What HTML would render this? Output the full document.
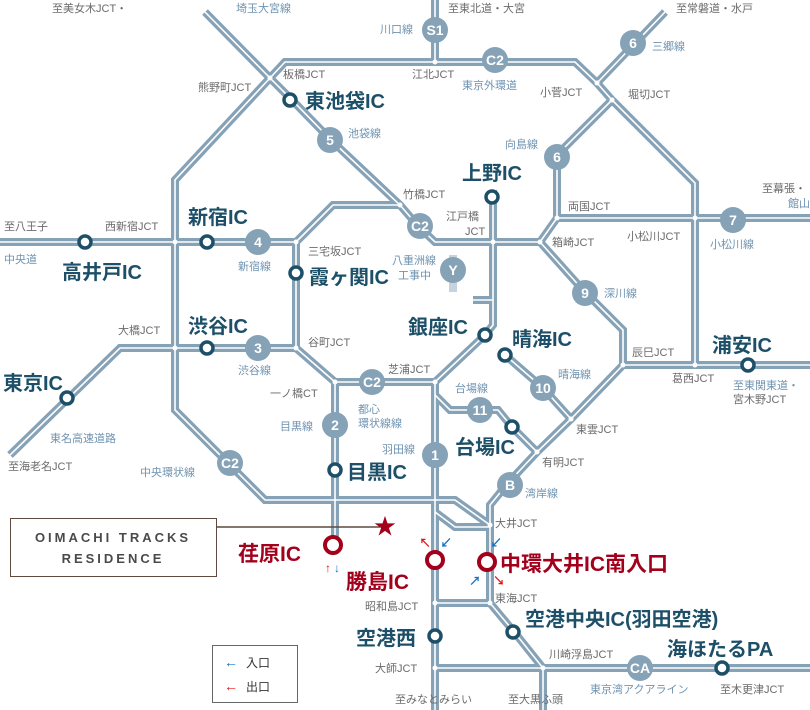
<!DOCTYPE html>
<html><head><meta charset="utf-8"><style>
html,body{margin:0;padding:0;background:#fff}
svg{display:block}
text{font-family:"Liberation Sans","Noto Sans CJK JP",sans-serif}
.j{fill:#6b6b6b;font-size:11px}
.l{fill:#6f93b0;font-size:11px}
.ic{fill:#1d5068;font-size:20px;font-weight:bold}
.rd{fill:#a3001c;font-size:21px;font-weight:bold}
.bt{fill:#fff;font-size:14px;font-weight:bold;text-anchor:middle}
</style></head><body>
<svg width="810" height="710" viewBox="0 0 810 710" xmlns="http://www.w3.org/2000/svg">
<defs>
<g id="roads">
<path d="M205,12 L270,78 L292,100 L331,140 L400,205 L418,226 L435,242 L540,242"/>
<path d="M270,78 L285,62 L575,62 L597,83 L612,100 L695,183 L695,365"/>
<path d="M270,78 L175,180 L175,410 L265,500 L455,500 L490,525"/>
<path d="M435,512 L455,527 L490,527"/>
<path d="M435,0 L435,62"/>
<path d="M665,12 L597,83"/>
<path d="M612,100 L557,155 L557,218 L540,242"/>
<path d="M557,218 L810,218"/>
<path d="M540,242 L583,290 L623,330 L623,365 L810,365"/>
<path d="M623,365 L571,419 L537,452 L508,483 L490,505 L490,603 L515,633 L543,668 L543,710"/>
<path d="M505,355 L543,388 L571,419"/>
<path d="M435,395 L450,410 L498,410 L512,427 L537,452"/>
<path d="M493,190 L493,325 L485,335 L435,382"/>
<path d="M473,300 L493,300"/>
<path d="M400,205 L333,205 L296,242 L296,348 L335,382 L435,382"/>
<path d="M0,242 L296,242"/>
<path d="M10,455 L120,348 L296,348"/>
<path d="M335,382 L335,545"/>
<path d="M435,382 L435,710"/>
<path d="M435,603 L490,603"/>
<path d="M435,668 L810,668"/>
</g>
</defs>
<path d="M453,255 L453,292" stroke="#c6d3dc" stroke-width="8" fill="none"/>
<use href="#roads" fill="none" stroke="#86a2b7" stroke-width="8"/>
<use href="#roads" fill="none" stroke="#fff" stroke-width="1.6"/>
<g fill="#fff">
<circle cx="270" cy="78" r="2.5"/><circle cx="435" cy="62" r="2.5"/><circle cx="597" cy="83" r="2.5"/><circle cx="612" cy="100" r="2.5"/>
<circle cx="175" cy="242" r="2.5"/><circle cx="296" cy="242" r="2.5"/><circle cx="400" cy="205" r="2.5"/><circle cx="493" cy="242" r="2.5"/><circle cx="540" cy="242" r="2.5"/><circle cx="557" cy="218" r="2.5"/><circle cx="695" cy="218" r="2.5"/>
<circle cx="175" cy="348" r="2.5"/><circle cx="296" cy="348" r="2.5"/><circle cx="335" cy="382" r="2.5"/><circle cx="435" cy="382" r="2.5"/>
<circle cx="623" cy="365" r="2.5"/><circle cx="695" cy="365" r="2.5"/><circle cx="571" cy="419" r="2.5"/><circle cx="537" cy="452" r="2.5"/>
<circle cx="490" cy="525" r="2.5"/><circle cx="490" cy="603" r="2.5"/><circle cx="435" cy="603" r="2.5"/><circle cx="435" cy="668" r="2.5"/><circle cx="543" cy="668" r="2.5"/>
</g>
<g fill="#86a2b7">
<circle cx="435" cy="30" r="13"/><circle cx="495" cy="60" r="13"/><circle cx="633" cy="43" r="13"/><circle cx="330" cy="140" r="13"/><circle cx="557" cy="157" r="13"/><circle cx="420" cy="226" r="13"/><circle cx="258" cy="242" r="13"/><circle cx="733" cy="220" r="13"/><circle cx="453" cy="270" r="13"/><circle cx="585" cy="293" r="13"/><circle cx="258" cy="348" r="13"/><circle cx="372" cy="382" r="13"/><circle cx="543" cy="388" r="13"/><circle cx="480" cy="410" r="13"/><circle cx="335" cy="425" r="13"/><circle cx="435" cy="455" r="13"/><circle cx="230" cy="463" r="13"/><circle cx="510" cy="485" r="13"/><circle cx="640" cy="668" r="13"/>
</g>
<g>
<text x="435" y="35" class="bt">S1</text><text x="495" y="65" class="bt">C2</text><text x="633" y="48" class="bt">6</text><text x="330" y="145" class="bt">5</text><text x="557" y="162" class="bt">6</text><text x="420" y="231" class="bt">C2</text><text x="258" y="247" class="bt">4</text><text x="733" y="225" class="bt">7</text><text x="453" y="275" class="bt">Y</text><text x="585" y="298" class="bt">9</text><text x="258" y="353" class="bt">3</text><text x="372" y="387" class="bt">C2</text><text x="543" y="393" class="bt">10</text><text x="480" y="415" class="bt">11</text><text x="335" y="430" class="bt">2</text><text x="435" y="460" class="bt">1</text><text x="230" y="468" class="bt">C2</text><text x="510" y="490" class="bt">B</text><text x="640" y="673" class="bt">CA</text>
</g>
<g fill="#fff" stroke="#1d5068" stroke-width="3.5">
<circle cx="290" cy="100" r="6"/><circle cx="492" cy="197" r="6"/><circle cx="85" cy="242" r="6"/><circle cx="207" cy="242" r="6"/><circle cx="296" cy="273" r="6"/><circle cx="207" cy="348" r="6"/><circle cx="67" cy="398" r="6"/><circle cx="485" cy="335" r="6"/><circle cx="505" cy="355" r="6"/><circle cx="748" cy="365" r="6"/><circle cx="512" cy="427" r="6"/><circle cx="335" cy="470" r="6"/><circle cx="513" cy="632" r="6"/><circle cx="435" cy="636" r="6"/><circle cx="722" cy="668" r="6"/>
</g>
<g fill="#fff" stroke="#a3001c" stroke-width="4">
<circle cx="333" cy="545" r="8"/><circle cx="435" cy="560" r="8"/><circle cx="487" cy="562" r="8"/>
</g>
<text class="ic" x="305" y="108">東池袋IC</text>
<text class="ic" x="462" y="180">上野IC</text>
<text class="ic" x="188" y="224">新宿IC</text>
<text class="ic" x="62" y="279">高井戸IC</text>
<text class="ic" x="309" y="284">霞ヶ関IC</text>
<text class="ic" x="188" y="333">渋谷IC</text>
<text class="ic" x="3" y="390">東京IC</text>
<text class="ic" x="408" y="334">銀座IC</text>
<text class="ic" x="512" y="346">晴海IC</text>
<text class="ic" x="712" y="352">浦安IC</text>
<text class="ic" x="455" y="454">台場IC</text>
<text class="ic" x="347" y="479">目黒IC</text>
<text class="ic" x="525" y="626">空港中央IC(羽田空港)</text>
<text class="ic" x="356" y="645">空港西</text>
<text class="ic" x="667" y="656">海ほたるPA</text>
<text class="rd" x="238" y="561">荏原IC</text>
<text class="rd" x="346" y="589">勝島IC</text>
<text class="rd" x="500" y="571">中環大井IC南入口</text>
<g class="j">
<text x="52" y="12">至美女木JCT・</text><text x="448" y="12">至東北道・大宮</text><text x="676" y="12">至常磐道・水戸</text>
<text x="198" y="91">熊野町JCT</text><text x="283" y="78">板橋JCT</text><text x="412" y="78">江北JCT</text><text x="540" y="96">小菅JCT</text><text x="628" y="98">堀切JCT</text>
<text x="403" y="198">竹橋JCT</text><text x="446" y="220">江戸橋</text><text x="465" y="235">JCT</text><text x="568" y="210">両国JCT</text><text x="552" y="246">箱崎JCT</text><text x="627" y="240">小松川JCT</text><text x="762" y="192">至幕張・</text>
<text x="4" y="230">至八王子</text><text x="105" y="230">西新宿JCT</text><text x="308" y="255">三宅坂JCT</text>
<text x="118" y="334">大橋JCT</text><text x="308" y="346">谷町JCT</text><text x="632" y="356">辰巳JCT</text><text x="672" y="382">葛西JCT</text><text x="733" y="403">宮木野JCT</text>
<text x="270" y="397">一ノ橋CT</text><text x="388" y="373">芝浦JCT</text><text x="576" y="433">東雲JCT</text><text x="542" y="466">有明JCT</text><text x="8" y="470">至海老名JCT</text>
<text x="495" y="527">大井JCT</text><text x="495" y="602">東海JCT</text><text x="365" y="610">昭和島JCT</text><text x="549" y="658">川崎浮島JCT</text><text x="375" y="672">大師JCT</text>
<text x="395" y="703">至みなとみらい</text><text x="508" y="703">至大黒ふ頭</text><text x="720" y="693">至木更津JCT</text>
</g>
<g class="l">
<text x="236" y="12">埼玉大宮線</text><text x="380" y="33">川口線</text><text x="462" y="89">東京外環道</text><text x="652" y="50">三郷線</text><text x="348" y="137">池袋線</text><text x="505" y="148">向島線</text>
<text x="788" y="207">館山道</text><text x="4" y="263">中央道</text><text x="238" y="270">新宿線</text><text x="392" y="264">八重洲線</text><text x="398" y="279">工事中</text><text x="604" y="297">深川線</text><text x="710" y="248">小松川線</text>
<text x="238" y="374">渋谷線</text><text x="558" y="378">晴海線</text><text x="455" y="392">台場線</text><text x="358" y="413">都心</text><text x="358" y="427">環状線線</text><text x="280" y="430">目黒線</text><text x="382" y="453">羽田線</text>
<text x="50" y="442">東名高速道路</text><text x="140" y="476">中央環状線</text><text x="525" y="497">湾岸線</text><text x="733" y="389">至東関東道・</text><text x="590" y="693">東京湾アクアライン</text>
</g>
<rect x="10.5" y="518.5" width="206" height="58" fill="#fff" stroke="#5e4a3f"/>
<line x1="217" y1="527" x2="380" y2="527" stroke="#5e4a3f" stroke-width="1.5"/>
<text x="113" y="542" text-anchor="middle" fill="#4a4a4a" font-size="13" font-weight="bold" letter-spacing="3">OIMACHI TRACKS</text>
<text x="113" y="563" text-anchor="middle" fill="#4a4a4a" font-size="13" font-weight="bold" letter-spacing="3">RESIDENCE</text>
<text x="385" y="534" text-anchor="middle" fill="#a3001c" font-size="22">★</text>
<g font-size="12" font-weight="bold">
<text x="325" y="572" fill="#e0131c">↑</text><text x="334" y="572" fill="#1570c0">↓</text>
<text x="419" y="547" fill="#e0131c">↖</text><text x="440" y="547" fill="#1570c0">↙</text>
<text x="490" y="547" fill="#1570c0">↙</text><text x="469" y="585" fill="#1570c0">↗</text><text x="493" y="585" fill="#e0131c">↘</text>
</g>
<rect x="212.5" y="645.5" width="85" height="57" fill="#fff" stroke="#666"/>
<text x="224" y="667" fill="#1570c0" font-size="14" font-weight="bold">←</text><text x="246" y="667" fill="#333" font-size="12">入口</text>
<text x="224" y="691" fill="#e0131c" font-size="14" font-weight="bold">←</text><text x="246" y="691" fill="#333" font-size="12">出口</text>
</svg>
</body></html>
